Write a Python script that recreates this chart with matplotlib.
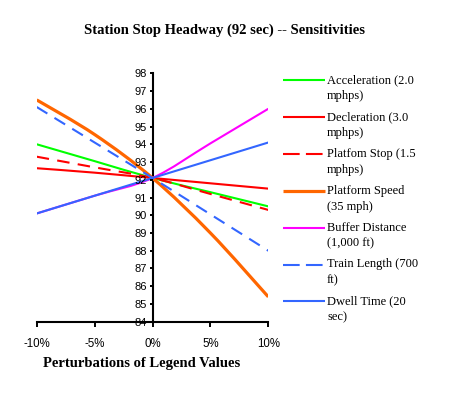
import matplotlib
matplotlib.use("Agg")
import matplotlib.pyplot as plt
from matplotlib.lines import Line2D
from matplotlib.path import Path
from matplotlib.patches import PathPatch

W, H = 451, 398

x_pct = [-10, -5, 0, 5, 10]
x_ticklabels = ["-10%", "-5%", "0%", "5%", "10%"]
y_ticks = list(range(84, 99))

acceleration = [94.0, 93.05, 92.1, 91.3, 90.5]
deceleration = [92.65, 92.4, 92.1, 91.8, 91.5]
platform_stop = [93.3, 92.7, 92.1, 91.2, 90.3]
platform_speed = [96.5, 94.55, 92.1, 89.0, 85.4]
buffer_distance = [90.1, 91.1, 92.1, 94.05, 96.0]
train_length = [96.1, 94.1, 92.1, 90.05, 88.0]
dwell_time = [90.1, 91.1, 92.1, 93.1, 94.1]

labels = [
    "Acceleration (2.0\nmphps)",
    "Decleration (3.0\nmphps)",
    "Platfom Stop (1.5\nmphps)",
    "Platform Speed\n(35 mph)",
    "Buffer Distance\n(1,000 ft)",
    "Train Length (700\nft)",
    "Dwell Time (20\nsec)",
]
series = [acceleration, deceleration, platform_stop, platform_speed,
          buffer_distance, train_length, dwell_time]
colors = ["#00FF00", "#FF0000", "#FF0000", "#FF6600", "#FF00FF", "#3366FF", "#3366FF"]
styles = ["-", "-", "--", "-", "-", "--", "-"]
widths = [1.5, 1.5, 1.5, 2.3, 1.5, 1.5, 1.5]

serif = "Liberation Serif"
sans = "Liberation Sans"


def smooth_path(xs, ys):
    """Excel-style smoothed line: cubic Bezier through the data points."""
    pts = list(zip(xs, ys))
    n = len(pts)
    verts = [pts[0]]
    codes = [Path.MOVETO]
    for i in range(n - 1):
        p0 = pts[max(i - 1, 0)]
        p1 = pts[i]
        p2 = pts[i + 1]
        p3 = pts[min(i + 2, n - 1)]
        c1 = (p1[0] + (p2[0] - p0[0]) / 6, p1[1] + (p2[1] - p0[1]) / 6)
        c2 = (p2[0] - (p3[0] - p1[0]) / 6, p2[1] - (p3[1] - p1[1]) / 6)
        verts += [c1, c2, p2]
        codes += [Path.CURVE4] * 3
    return Path(verts, codes)


fig = plt.figure(figsize=(W / 100, H / 100), dpi=100)
left, right = 36.7 / W, 268.3 / W
top, bottom = 1 - 73.3 / H, 1 - 321.7 / H
ax = fig.add_axes([left, bottom, right - left, top - bottom])

# spine placement first (it resets the ticks)
ax.spines["top"].set_visible(False)
ax.spines["right"].set_visible(False)
ax.spines["left"].set_position(("data", 0))
ax.spines["left"].set_linewidth(1.5)
ax.spines["bottom"].set_linewidth(1.5)
ax.spines["left"].set_zorder(0.5)

for vals, c, ls, lw in zip(series, colors, styles, widths):
    linestyle = (0, (6, 4)) if ls == "--" else "-"
    patch = PathPatch(smooth_path(x_pct, vals), fill=False, edgecolor=c,
                      linewidth=lw, linestyle=linestyle, capstyle="butt")
    ax.add_patch(patch)

ax.set_xlim(-10, 10)
ax.set_ylim(84, 98)
ax.set_xticks(x_pct)
ax.set_xticklabels(x_ticklabels)
ax.set_yticks(y_ticks)
ax.set_yticklabels([str(v) for v in y_ticks])
ax.tick_params(axis="x", labelsize=8.3, labelfontfamily=sans)
ax.tick_params(axis="y", labelsize=8.0, labelfontfamily=sans)
ax.tick_params(axis="y", direction="out", length=2.5, width=1.4, pad=1.5)
ax.tick_params(axis="x", direction="out", length=3.5, width=1.4, pad=8)
ax.patch.set_alpha(0)

fig.text(224 / W, 1 - 30 / H, "Station Stop Headway (92 sec) -- Sensitivities",
         ha="center", va="center", fontfamily=serif, fontsize=10.5, fontweight="bold")
fig.text(142 / W, 1 - 363 / H, "Perturbations of Legend Values",
         ha="center", va="center", fontfamily=serif, fontsize=10.5, fontweight="bold")

# manual legend
y0, dy, line_dy = 80.0, 36.9, 16.0
for i, lab in enumerate(labels):
    yy = y0 + i * dy
    leg = Line2D([283 / W, 325 / W], [1 - yy / H] * 2, transform=fig.transFigure,
                 color=colors[i], linewidth=widths[i],
                 solid_capstyle="butt", dash_capstyle="butt")
    if styles[i] == "--":
        leg.set_dashes((8, 3))
    fig.add_artist(leg)
    for j, part in enumerate(lab.split("\n")):
        fig.text(327 / W, 1 - (yy + j * line_dy) / H, part, ha="left", va="center",
                 fontfamily=serif, fontsize=9)

fig.savefig("out.png", dpi=100)
